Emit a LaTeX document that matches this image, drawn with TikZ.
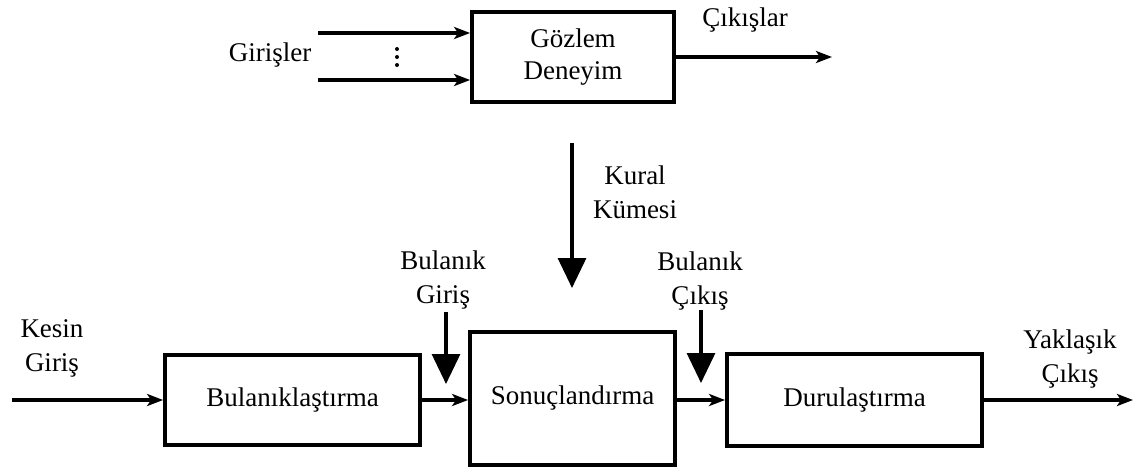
\documentclass[tikz,border=0pt]{standalone}
\usepackage{fontspec}
\setmainfont{Liberation Serif}
\usetikzlibrary{arrows.meta}
\begin{document}
\begin{tikzpicture}[x=1pt,y=-1pt,
  blk/.style={draw,line width=3.8pt,minimum width=#1,inner sep=0pt,align=center,
    font=\fontsize{27}{32}\selectfont},
  lbl/.style={align=center,inner sep=0pt,font=\fontsize{27}{34}\selectfont},
  flow/.style={line width=3.2pt,-{Stealth[length=16pt,width=12pt,inset=4pt]}},
  big/.style={line width=3.2pt,-{Triangle[length=30pt,width=28pt]}}]
\useasboundingbox (0,0) rectangle (1135,469);
% top block
\node[blk=202pt,minimum height=90pt] (gd) at (573,57) {Gözlem\\Deneyim};
\coordinate (i1) at (318,33);
\coordinate (i2) at (318,80);
\coordinate (o1) at (832,57);
\draw[flow] (i1) -- (i1 -| gd.west);
\draw[flow] (i2) -- (i2 -| gd.west);
\draw[flow] (gd.east |- o1) -- (o1);
\node[lbl] (gir) at (270,55) {Girişler};
\fill (397,49) circle (2pt) (397,57) circle (2pt) (397,65) circle (2pt);
\node[lbl] (cik) at (745,20) {Çıkışlar};
% bottom blocks
\node[blk=255pt,minimum height=90pt] (bul) at (292.5,400) {Bulanıklaştırma};
\node[blk=205pt,minimum height=133pt] (son) at (572.5,398.5) {Sonuçlandırma};
\node[blk=255pt,minimum height=92pt] (dur) at (854.5,400) {Durulaştırma};
\coordinate (kin) at (12,400);
\coordinate (yout) at (1133,400);
\draw[flow] (kin) -- (bul.west);
\draw[flow] (bul.east) -- (bul.east -| son.west);
\draw[flow] (son.east |- dur.west) -- (dur.west);
\draw[flow] (dur.east) -- (yout);
% vertical inputs
\coordinate (k1) at (572,143);
\coordinate (k2) at (572,288);
\draw[big] (k1) -- (k2);
\coordinate (b1) at (446,312);
\coordinate (b2) at (446,384);
\draw[big] (b1) -- (b2);
\coordinate (c1) at (701,310);
\coordinate (c2) at (701,383);
\draw[big] (c1) -- (c2);
% labels
\node[lbl] (kes) at (52,348) {Kesin\\Giriş};
\node[lbl] (bg) at (443,280) {Bulanık\\Giriş};
\node[lbl] (kk) at (635,192) {Kural\\Kümesi};
\node[lbl] (bc) at (700,281) {Bulanık\\Çıkış};
\node[lbl] (yc) at (1070,359) {Yaklaşık\\Çıkış};
\end{tikzpicture}
\end{document}
